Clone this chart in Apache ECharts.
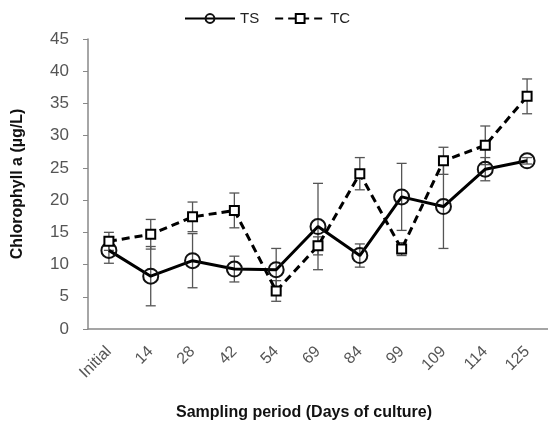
<!DOCTYPE html>
<html>
<head>
<meta charset="utf-8">
<script src="https://cdn.jsdelivr.net/npm/echarts@6/dist/echarts.min.js"></script>
<style>
  html, body { margin: 0; padding: 0; background: #fff; }
  #chart { width: 548px; height: 431px; }
</style>
</head>
<body>
<div id="chart"></div>
<script>
// sampling days
const days = ['Initial', '14', '28', '42', '54', '69', '84', '99', '109', '114', '125'];

// TS series: mean and error
const tsMean = [12.2, 8.2, 10.6, 9.3, 9.2, 15.9, 11.4, 20.5, 19.0, 24.8, 26.1];
const tsErr = [2.0, 4.6, 4.2, 2.0, 3.3, 6.7, 1.8, 5.2, 6.5, 1.8, 0.5];

// TC series: mean and error
const tcMean = [13.6, 14.7, 17.4, 18.4, 5.9, 12.9, 24.1, 12.4, 26.1, 28.5, 36.1];
const tcErr = [1.4, 2.3, 2.3, 2.7, 1.6, 1.4, 2.5, 1.0, 2.1, 3.0, 2.7];

const yTicks = [0, 5, 10, 15, 20, 25, 30, 35, 40, 45];

const fontName = "'Liberation Sans', Arial, sans-serif";

// error bar data: [index, low, high]
const errData = (mean, err) => mean.map((m, i) => [i, m - err[i], m + err[i]]);

function renderErr(params, api) {
  const x = api.value(0);
  const lo = api.coord([x, api.value(1)]);
  const hi = api.coord([x, api.value(2)]);
  const w = 5;
  const style = { stroke: '#555', lineWidth: 1.3 };
  return {
    type: 'group',
    children: [
      { type: 'line', shape: { x1: lo[0], y1: lo[1], x2: hi[0], y2: hi[1] }, style: style },
      { type: 'line', shape: { x1: lo[0] - w, y1: lo[1], x2: lo[0] + w, y2: lo[1] }, style: style },
      { type: 'line', shape: { x1: hi[0] - w, y1: hi[1], x2: hi[0] + w, y2: hi[1] }, style: style }
    ]
  };
}

const chart = echarts.init(document.getElementById('chart'));

chart.setOption({
  animation: false,
  backgroundColor: '#fff',
  textStyle: { fontFamily: fontName },
  legend: {
    top: 6,
    left: 179,
    itemWidth: 50,
    itemHeight: 11,
    itemGap: 15,
    textStyle: { fontSize: 15, color: '#222', fontFamily: fontName },
    data: ['TS', 'TC']
  },
  grid: {
    left: 88,
    right: 0,
    top: 39,
    bottom: 102
  },
  xAxis: {
    type: 'category',
    data: days,
    boundaryGap: true,
    name: 'Sampling period (Days of culture)',
    nameLocation: 'middle',
    nameGap: 76,
    nameTextStyle: { fontSize: 16, fontWeight: 'bold', color: '#111', padding: [0, 28, 0, 0] },
    axisLine: { lineStyle: { color: '#888', width: 1.5 } },
    axisTick: { alignWithLabel: false, length: 5, lineStyle: { color: '#888' } },
    axisLabel: { rotate: 45, fontSize: 16, color: '#555', margin: 20 },
    splitLine: { show: false }
  },
  yAxis: {
    type: 'value',
    min: yTicks[0],
    max: yTicks[yTicks.length - 1],
    interval: 5,
    name: 'Chlorophyll a (µg/L)',
    nameLocation: 'middle',
    nameGap: 62,
    nameTextStyle: { fontSize: 16, fontWeight: 'bold', color: '#111' },
    axisLine: { show: true, lineStyle: { color: '#888', width: 1.5 } },
    axisTick: { show: true, length: 5, lineStyle: { color: '#888' } },
    axisLabel: { fontSize: 17, color: '#555', margin: 19 },
    splitLine: { show: false }
  },
  series: [
    {
      type: 'custom',
      name: 'TS err',
      renderItem: renderErr,
      encode: { x: 0, y: [1, 2] },
      data: errData(tsMean, tsErr),
      z: 1,
      silent: true
    },
    {
      type: 'custom',
      name: 'TC err',
      renderItem: renderErr,
      encode: { x: 0, y: [1, 2] },
      data: errData(tcMean, tcErr),
      z: 1,
      silent: true
    },
    {
      name: 'TS',
      type: 'line',
      data: tsMean,
      symbol: 'circle',
      symbolSize: 15,
      lineStyle: { color: '#000', width: 3, type: 'solid' },
      itemStyle: { color: 'rgba(255,255,255,0)', borderColor: '#111', borderWidth: 2 },
      z: 3
    },
    {
      name: 'TC',
      type: 'line',
      data: tcMean,
      symbol: 'rect',
      symbolSize: 9,
      lineStyle: { color: '#000', width: 3, type: [8, 5] },
      itemStyle: { color: '#fff', borderColor: '#000', borderWidth: 2 },
      z: 4
    }
  ]
});
</script>
</body>
</html>
